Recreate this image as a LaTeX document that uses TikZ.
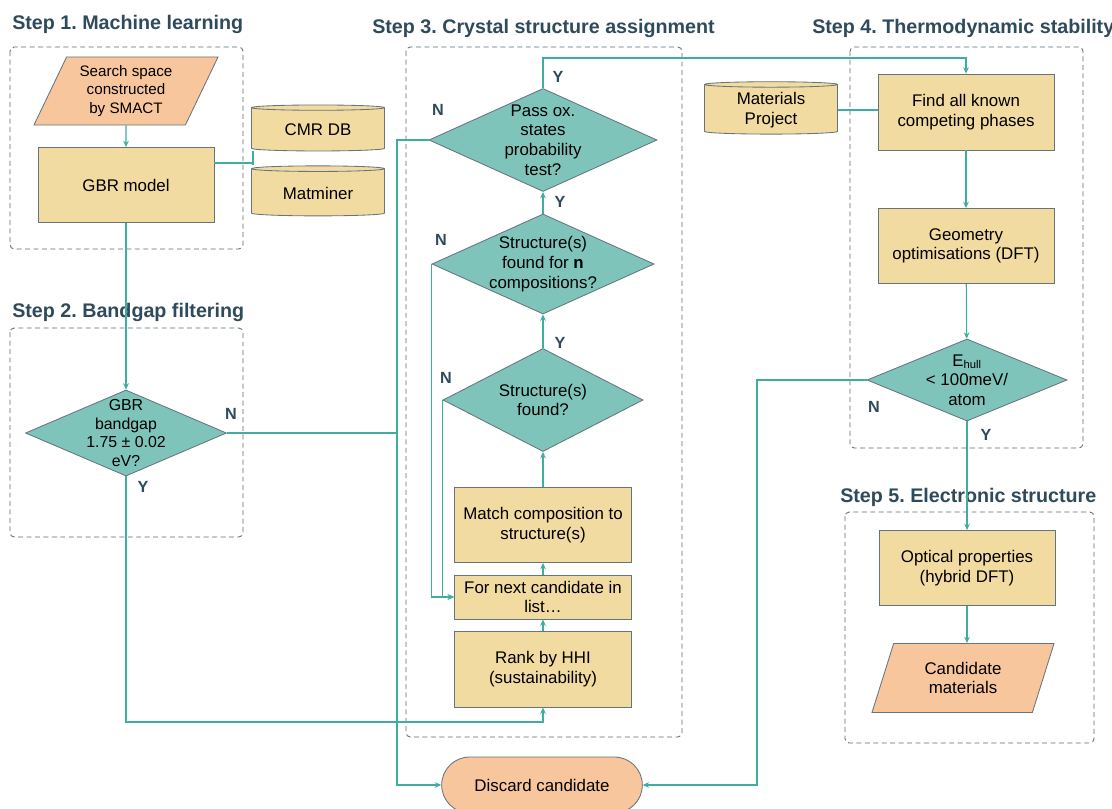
\documentclass[tikz,border=0pt]{standalone}
\usepackage{fontspec}
\setmainfont{Liberation Sans}
\usetikzlibrary{shapes.geometric,shapes.misc,arrows.meta}
\frenchspacing

\definecolor{flowline}{HTML}{3FAE9F}
\definecolor{decisionfill}{HTML}{7FC4BA}
\definecolor{processfill}{HTML}{F2DBA1}
\definecolor{iofill}{HTML}{F8C69C}
\definecolor{nodeedge}{HTML}{66757D}
\definecolor{titlecol}{HTML}{2E4A5B}

\tikzset{
  every node/.style={font=\fontsize{12}{14}\selectfont},
  process/.style={draw=nodeedge, fill=processfill, line width=0.6pt, align=center, minimum width=4.4cm},
  decision/.style={diamond, draw=nodeedge, fill=decisionfill, line width=0.6pt, inner sep=0pt},
  inout/.style={trapezium, trapezium stretches body, draw=nodeedge, fill=iofill, line width=0.6pt, align=center},
  database/.style={cylinder, shape border rotate=90, shape aspect=0.07, draw=nodeedge, fill=processfill, line width=0.6pt, align=center},
  terminal/.style={rounded rectangle, draw=nodeedge, fill=iofill, line width=0.6pt},
  stepframe/.style={draw=nodeedge!90!black, dash pattern=on 3.5pt off 2.5pt, rounded corners=3pt, line width=0.6pt},
  steptitle/.style={anchor=base west, inner sep=0pt, text=titlecol, font=\fontsize{14}{16}\selectfont\bfseries},
  yn/.style={text=titlecol, font=\fontsize{11.5}{13}\selectfont\bfseries},
  flow/.style={draw=flowline, line width=0.8pt},
}

\begin{document}
\begin{tikzpicture}[x=0.025cm, y=-0.025cm, >={Stealth[length=4.5pt,width=4pt]}]
\useasboundingbox (0,0) rectangle (1112,809);

% dashed step frames
\draw[stepframe] (10,47) rectangle (243,249);
\draw[stepframe] (10,328) rectangle (243,537);
\draw[stepframe] (406,47) rectangle (682,737);
\draw[stepframe] (850,47) rectangle (1083,448);
\draw[stepframe] (845,512) rectangle (1094,743);

\node[steptitle] (t1) at (12,29) {Step 1. Machine learning};
\node[steptitle] (t2) at (12,317) {Step 2. Bandgap filtering};
\node[steptitle] (t3) at (372,33) {Step 3. Crystal structure assignment};
\node[steptitle] (t4) at (812,33) {Step 4. Thermodynamic stability};
\node[steptitle] (t5) at (840,502) {Step 5. Electronic structure};

% step 1
\node[inout, trapezium left angle=61.5, trapezium right angle=118.5, minimum width=4.6cm, minimum height=1.7cm, font=\fontsize{10.8}{13}\selectfont] (search) at (126,91) {Search space\\constructed\\by SMACT};
\node[process, minimum height=1.875cm] (gbr) at (126,185) {GBR model};
\node[database, minimum width=3.325cm, minimum height=1.15cm] (cmr) at (318,130) {CMR DB};
\node[database, minimum width=3.325cm, minimum height=1.25cm] (matminer) at (318,193) {Matminer};
\coordinate (dbjoin) at (253,163);

% step 2
\node[decision, minimum width=5.025cm, minimum height=2.15cm, label={[align=center, font=\fontsize{11.3}{13.4}\selectfont]center:GBR\\bandgap\\1.75 ± 0.02\\eV?}] (bandgap) at (126,433) {};

% step 3
\node[decision, minimum width=5.7cm, minimum height=2.575cm, label={[align=center]center:Pass ox.\\states\\probability\\test?}] (passox) at (543,140) {};
\node[decision, minimum width=5.55cm, minimum height=2.5cm, label={[align=center]center:Structure(s)\\found for \textbf{n}\\compositions?}] (nfound) at (543,264) {};
\node[decision, minimum width=5cm, minimum height=2.575cm, label={[align=center]center:Structure(s)\\found?}] (sfound) at (543,400) {};
\node[process, minimum width=4.425cm, minimum height=1.875cm] (match) at (543,525) {Match composition to\\structure(s)};
\node[process, minimum width=4.425cm, minimum height=1.1cm] (fornext) at (543,597) {For next candidate in\\list…};
\node[process, minimum width=4.425cm, minimum height=1.9cm] (rank) at (543,669) {Rank by HHI\\(sustainability)};
\node[terminal, minimum width=5.25cm, minimum height=1.4cm] (discard) at (542,785) {Discard candidate};

% step 4
\node[database, minimum width=3.325cm, minimum height=1.25cm] (mp) at (771,110) {Materials\\Project};
\node[process, minimum height=1.9cm] (findall) at (966,112) {Find all known\\competing phases};
\node[process, minimum height=1.875cm] (geom) at (966,246) {Geometry\\optimisations (DFT)};
\node[decision, minimum width=5cm, minimum height=2.05cm, label={[align=center]center:E\textsubscript{hull}\\< 100meV/\\atom}] (ehull) at (967,380) {};

% step 5
\node[process, minimum height=1.875cm] (optical) at (967,568) {Optical properties\\(hybrid DFT)};
\node[inout, trapezium left angle=62.4, trapezium right angle=117.6, minimum width=4.55cm, minimum height=1.725cm] (candidate) at (963,678) {Candidate\\materials};

% rails
\coordinate (nrail) at (397,0);
\coordinate (yrail) at (0,722);
\coordinate (toprail) at (0,58);
\coordinate (erail) at (757,0);

% connectors
\draw[flow, ->] (search) -- (gbr);
\draw[flow] (gbr.east |- dbjoin) -- (dbjoin);
\draw[flow] (cmr.south -| dbjoin) -- (matminer.north -| dbjoin);
\draw[flow, ->] (gbr) -- (bandgap);
\draw[flow] (bandgap.east) -- (bandgap.east -| nrail);
\draw[flow, ->] (passox.west) -- (passox.west -| nrail) |- (discard.west);
\draw[flow, ->] (bandgap.south) -- (bandgap.south |- yrail) -| (rank.south);
\draw[flow, ->] (rank) -- (fornext);
\draw[flow, ->] (fornext) -- (match);
\draw[flow, ->] (match) -- (sfound);
\draw[flow, ->] (sfound) -- (nfound);
\draw[flow, ->] (nfound) -- (passox);
\draw[flow, ->] (nfound.west) |- (fornext.west);
\draw[flow, ->] (sfound.west) |- (fornext.west);
\draw[flow, ->] (passox.north) -- (passox.north |- toprail) -| (findall.north);
\draw[flow] (mp.east) -- (mp.east -| findall.west);
\draw[flow, ->] (findall) -- (geom);
\draw[flow, ->] (geom) -- (ehull);
\draw[flow, ->] (ehull.west) -- (ehull.west -| erail) |- (discard.east);
\draw[flow, ->] (ehull) -- (optical);
\draw[flow, ->] (optical.south) -- (optical.south |- candidate.north);

% Y / N labels
\node[yn] (bgn) at (231,414) {N};
\node[yn] (bgy) at (143,487) {Y};
\node[yn] (pon) at (438,110) {N};
\node[yn] (poy) at (558,77) {Y};
\node[yn] (nfn) at (441,240) {N};
\node[yn] (nfy) at (560,202) {Y};
\node[yn] (sfn) at (446,378) {N};
\node[yn] (sfy) at (560,343) {Y};
\node[yn] (ehn) at (874,407) {N};
\node[yn] (ehy) at (986,435) {Y};
\end{tikzpicture}
\end{document}
